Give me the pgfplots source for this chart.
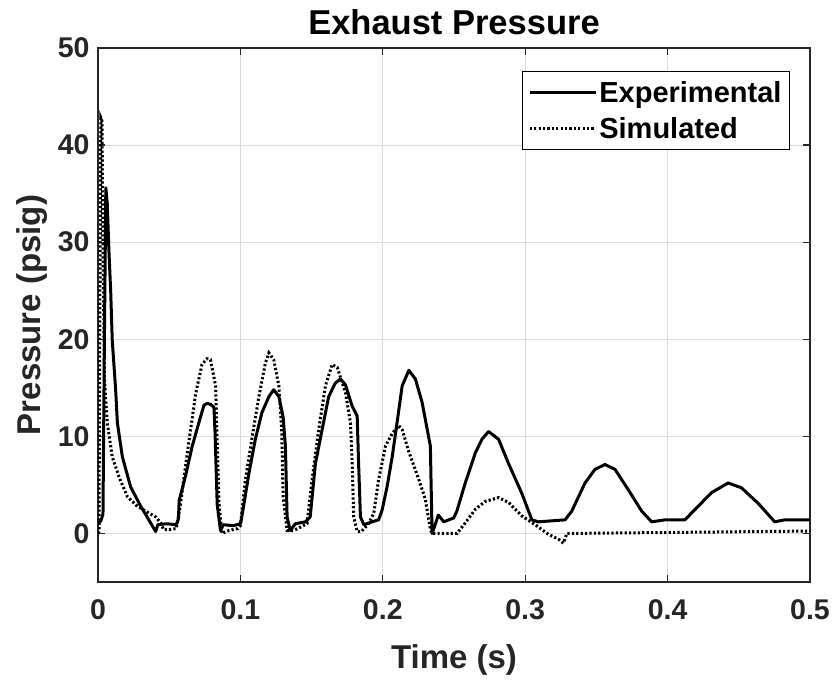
\documentclass[border=0pt]{standalone}
\usepackage{fontspec}
\setmainfont{Liberation Sans}
\usepackage{pgfplots}
\pgfplotsset{compat=1.18}
\definecolor{axgray}{gray}{0.15}
\definecolor{gridgray}{gray}{0.86}
\begin{document}
\begin{tikzpicture}
\useasboundingbox (-98pt,-101pt) rectangle (737pt,582pt);
\begin{axis}[
  at={(0pt,0pt)}, anchor=south west,
  scale only axis, width=712pt, height=534pt,
  xmin=0, xmax=0.5, ymin=-5, ymax=50,
  xtick={0,0.1,0.2,0.3,0.4,0.5},
  ytick={0,10,20,30,40,50},
  xticklabels={0,0.1,0.2,0.3,0.4,0.5},
  grid=major,
  major grid style={gridgray, line width=1pt},
  axis line style={axgray, line width=1.2pt},
  tick style={axgray, line width=1.2pt},
  major tick length=7pt,
  tick align=inside,
  /pgf/number format/assume math mode=true,
  ticklabel style={font=\bfseries\fontsize{28.5}{30}\selectfont, text=black!85},
  xticklabel style={yshift=-14pt},
  yticklabel style={xshift=-5pt},
  xlabel={Time (s)},
  ylabel={Pressure (psig)},
  label style={font=\bfseries\fontsize{33}{36}\selectfont, text=black!85},
  xlabel style={at={(axis description cs:0.5,-0.146)}, anchor=center},
  ylabel style={at={(axis description cs:-0.0927,0.5)}, anchor=center},
  title={Exhaust Pressure},
  title style={font=\bfseries\fontsize{34.5}{37}\selectfont, at={(axis description cs:0.5,1)}, anchor=center, yshift=20pt},
  legend style={at={(0.972,0.957)}, anchor=north east, draw=black, line width=1.2pt,
    font=\bfseries\fontsize{29}{31}\selectfont, inner xsep=6pt, inner ysep=8pt, row sep=9pt,
    legend cell align=left},
  legend image code/.code={\draw[#1] (0pt,0pt) -- (66pt,0pt);},
]
\addplot[black, line width=3pt, line join=round] coordinates {
(0,1.0) (0.002,1.3) (0.0035,2) (0.0045,20) (0.0055,35.6) (0.0065,34) (0.0077,29)
(0.0089,25) (0.010,19.9) (0.0124,14.8) (0.0136,11.4) (0.0171,7.9) (0.0229,4.8)
(0.030,2.8) (0.0337,1.9) (0.0405,0.2) (0.042,0.9) (0.048,1.0) (0.055,0.9)
(0.0565,1.5) (0.057,3.4) (0.0616,6) (0.066,8.9) (0.071,11.5) (0.0744,13.2)
(0.0766,13.4) (0.079,13.3) (0.0814,13) (0.0822,10.4) (0.0837,3) (0.086,0.3)
(0.088,0.9) (0.095,0.8) (0.100,1.0) (0.101,1.7) (0.106,6.2) (0.1105,9.7)
(0.115,12.4) (0.120,14.1) (0.1234,14.8) (0.127,14.1) (0.130,12) (0.1316,9)
(0.1328,1.7) (0.135,0.3) (0.1386,1) (0.1457,1.2) (0.149,1.7) (0.1527,7.2)
(0.1574,10.7) (0.162,14.1) (0.1667,15.5) (0.1703,15.9) (0.1738,15.3) (0.1785,13.1)
(0.182,12.1) (0.183,7.2) (0.1843,1.7) (0.1867,0.9) (0.1925,1.2) (0.197,1.4)
(0.1995,2.4) (0.203,4.8) (0.2066,7.9) (0.210,11.4) (0.2136,15.2) (0.2183,16.8)
(0.2229,15.9) (0.2276,13.5) (0.2334,9.0) (0.2346,0) (0.237,1.0) (0.239,1.9)
(0.2428,1.2) (0.2498,1.6) (0.252,2.3) (0.2579,5.2) (0.265,8.3) (0.2696,9.7)
(0.2743,10.5) (0.2813,9.7) (0.2883,7.2) (0.2977,4.1) (0.3047,1.4) (0.3093,1.2)
(0.328,1.4) (0.3327,2.3) (0.342,5.2) (0.349,6.6) (0.356,7.1) (0.3631,6.6)
(0.3724,4.5) (0.3818,2.3) (0.3888,1.2) (0.3981,1.4) (0.4121,1.4) (0.4215,2.8)
(0.4308,4.2) (0.4425,5.2) (0.4519,4.7) (0.4636,3.1) (0.4752,1.2) (0.4822,1.4)
(0.5,1.4)
};
\addlegendentry{Experimental}
\addplot[black, line width=3pt, dash pattern=on 2.2pt off 2.2pt] coordinates {
(0,0) (0.0007,0.2) (0.0012,20) (0.002,42.8) (0.0028,42.5) (0.0035,30) (0.0045,16)
(0.0065,11.4) (0.010,7.9) (0.0148,5.8) (0.0206,3.8) (0.0276,2.8) (0.0346,2.2)
(0.0405,1.7) (0.044,1.1) (0.046,0.4) (0.050,0.4) (0.055,0.5) (0.058,3.1)
(0.063,8.6) (0.0686,14.4) (0.0730,17.4) (0.0766,18.0) (0.079,17.9) (0.0826,15.2)
(0.0835,10.4) (0.085,3.1) (0.087,0) (0.092,0.3) (0.098,0.5) (0.1,0.8)
(0.1035,5.5) (0.108,9.7) (0.113,14.1) (0.1176,17.6) (0.120,18.6) (0.1234,17.9)
(0.127,15.2) (0.129,10.7) (0.130,3.8) (0.1328,0.3) (0.1375,0.3) (0.1468,1.0)
(0.1503,5.5) (0.155,10.7) (0.1597,15.2) (0.1644,17.4) (0.168,17.1) (0.1738,14.5)
(0.1773,11.4) (0.1785,7.2) (0.1796,1.7) (0.182,0.2) (0.185,0.2) (0.190,1.0)
(0.1937,2.1) (0.197,5.5) (0.2019,9.0) (0.2066,10.3) (0.2112,11.1) (0.2136,10.7)
(0.2183,8.4) (0.2252,5.6) (0.2299,3.5) (0.2334,0.4) (0.2346,0) (0.2521,0)
(0.258,1.1) (0.265,2.5) (0.272,3.3) (0.2813,3.7) (0.2883,3.2) (0.2977,1.8)
(0.307,0.9) (0.3164,-0.1) (0.3234,-0.6) (0.3269,-1.0) (0.3292,0) (0.4,0.1)
(0.5,0.25)
};
\addlegendentry{Simulated}
\end{axis}
\end{tikzpicture}
\end{document}
